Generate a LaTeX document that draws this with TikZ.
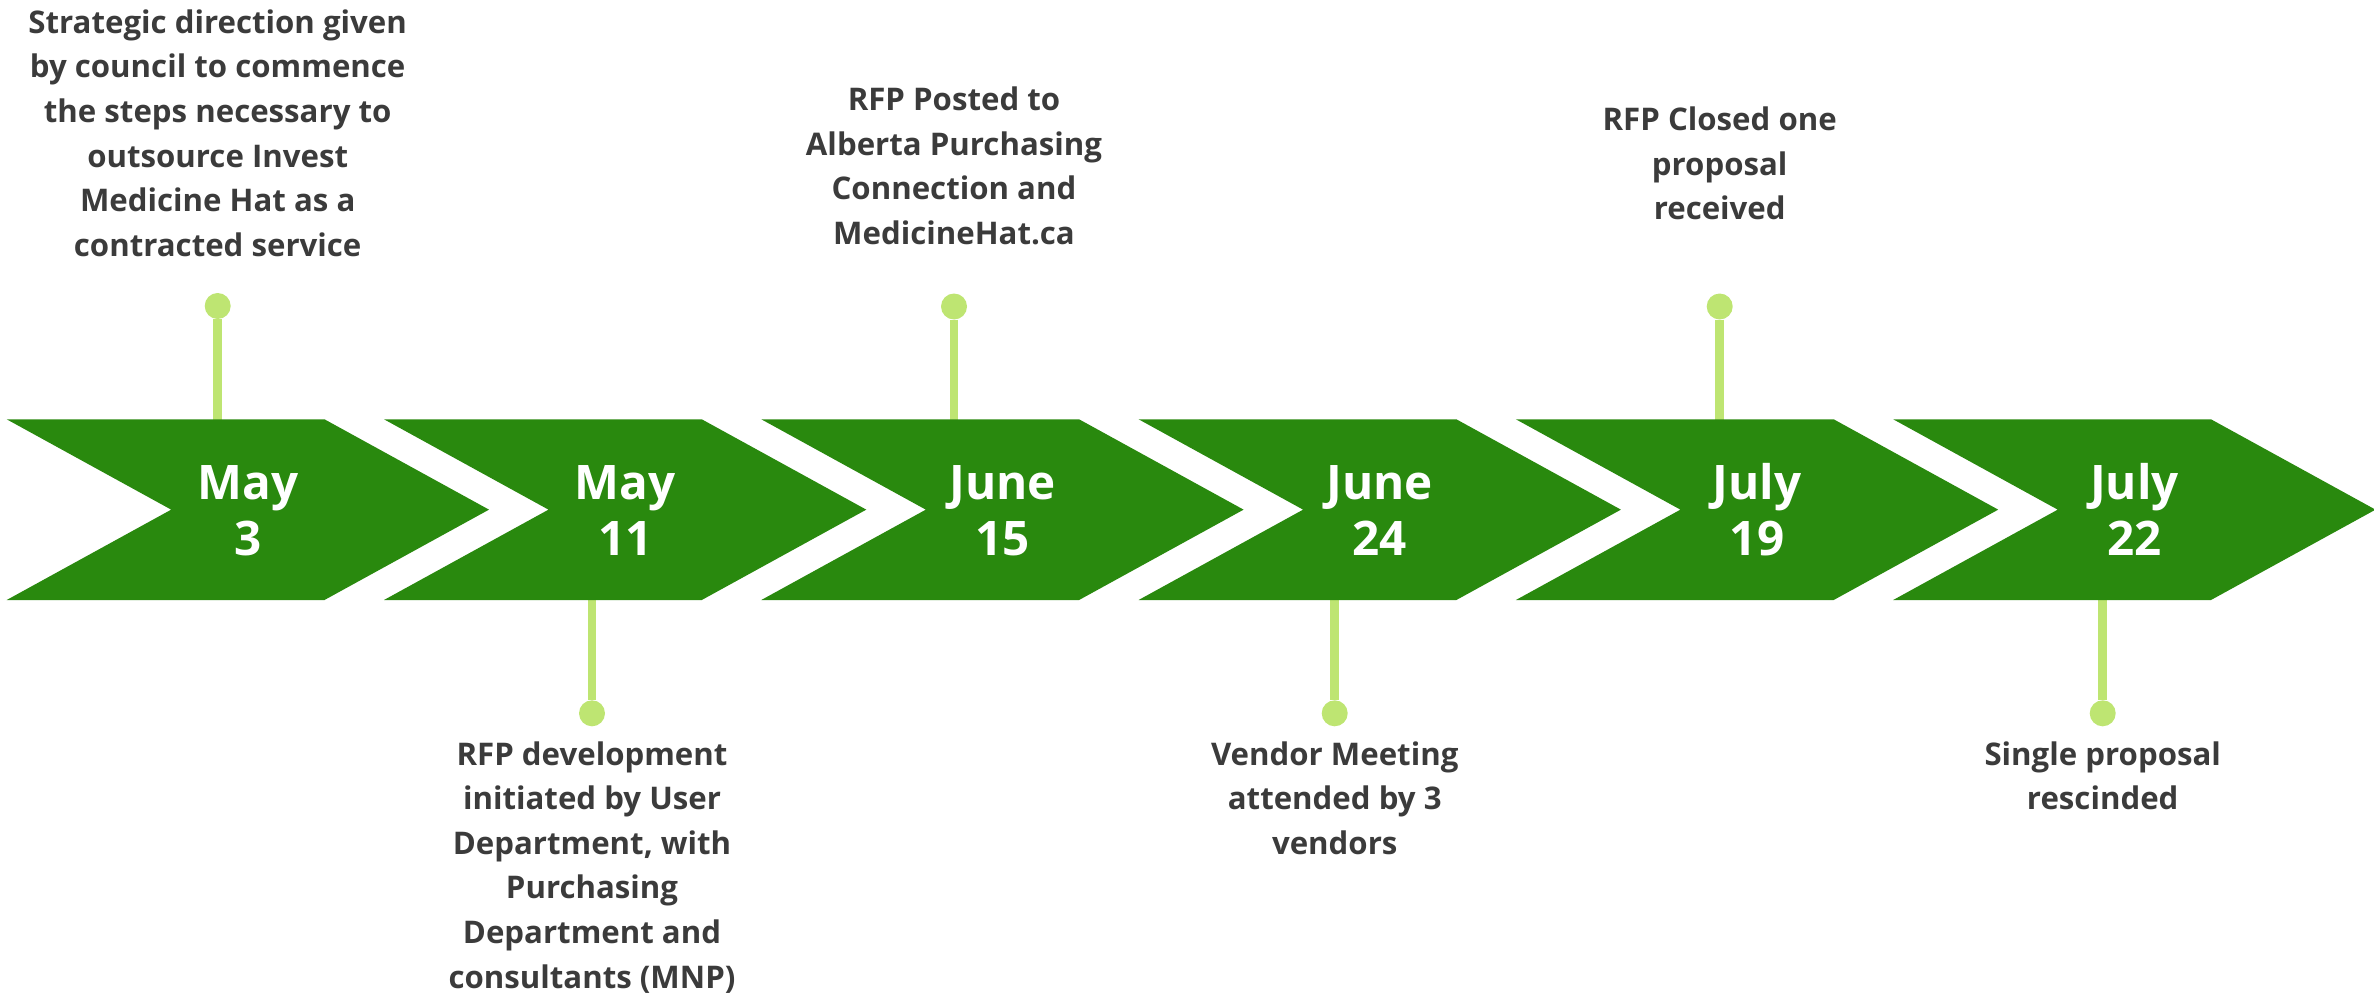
\documentclass[tikz,border=0pt]{standalone}
\usepackage{fontspec}
\setmainfont{Open Sans}
\usetikzlibrary{calc}
\definecolor{chevgreen}{RGB}{41,137,14}
\definecolor{stemgreen}{RGB}{190,229,114}
\definecolor{labelgray}{RGB}{59,59,59}
\tikzset{
  chevron/.style={fill=chevgreen, draw=none},
  datetext/.style={text=white, font=\fontsize{47.6}{56.3}\selectfont\bfseries, align=center, anchor=base, inner sep=0pt},
  eventtext/.style={text=labelgray, font=\fontsize{31.2}{44.6}\selectfont\bfseries, align=center, anchor=base, inner sep=0pt},
  pin/.style={circle, fill=stemgreen, minimum size=26pt, inner sep=0pt},
  stem/.style={draw=stemgreen, line width=8.7pt},
}
\begin{document}
\begin{tikzpicture}[x=1pt,y=-1pt]
\useasboundingbox (0,0) rectangle (2374,995);

% pins above the arrow band
\node[pin] (p0) at (217.7,306) {};
\node[pin] (p2) at (954,306.5) {};
\node[pin] (p4) at (1719.7,306.5) {};
% pins below the arrow band
\node[pin] (p1) at (592,713.3) {};
\node[pin] (p3) at (1334.7,713.3) {};
\node[pin] (p5) at (2102.7,713.3) {};

\coordinate (e0) at (217.7,425);
\coordinate (e2) at (954,425);
\coordinate (e4) at (1719.7,425);
\coordinate (e1) at (592,595);
\coordinate (e3) at (1334.7,595);
\coordinate (e5) at (2102.7,595);

\draw[stem] (p0.south) -- (e0);
\draw[stem] (p2.south) -- (e2);
\draw[stem] (p4.south) -- (e4);
\draw[stem] (p1.north) -- (e1);
\draw[stem] (p3.north) -- (e3);
\draw[stem] (p5.north) -- (e5);

% chevron band with dates (node base = last line's baseline)
\foreach \i/\mon/\day in {0/May/3,1/May/11,2/June/15,3/June/24,4/July/19,5/July/22} {
  \pgfmathsetmacro\L{6.7+377.3*\i}
  \fill[chevron] (\L,419.3) -- ++(317.8,0) -- ++(164.5,90.35) -- ++(-164.5,90.35)
    -- ++(-317.8,0) -- ++(164.5,-90.35) -- cycle;
  \node[datetext] (d\i) at (\L+241.2,555.3) {\mon\\\day};
}

% event descriptions, placed by the baseline of their last line
\node[eventtext] (t0) at (217.7,256.3) {Strategic direction given\\by council to commence\\the steps necessary to\\outsource Invest\\Medicine Hat as a\\contracted service};
\node[eventtext] (t2) at (954,244.5) {RFP Posted to\\Alberta Purchasing\\Connection and\\MedicineHat.ca};
\node[eventtext] (t4) at (1719.7,219.9) {RFP Closed one\\proposal\\received};
\node[eventtext] (t1) at (592,988) {RFP development\\initiated by User\\Department, with\\Purchasing\\Department and\\consultants (MNP)};
\node[eventtext] (t3) at (1334.7,854.2) {Vendor Meeting\\attended by 3\\vendors};
\node[eventtext] (t5) at (2102.7,809.6) {Single proposal\\rescinded};
\end{tikzpicture}
\end{document}
